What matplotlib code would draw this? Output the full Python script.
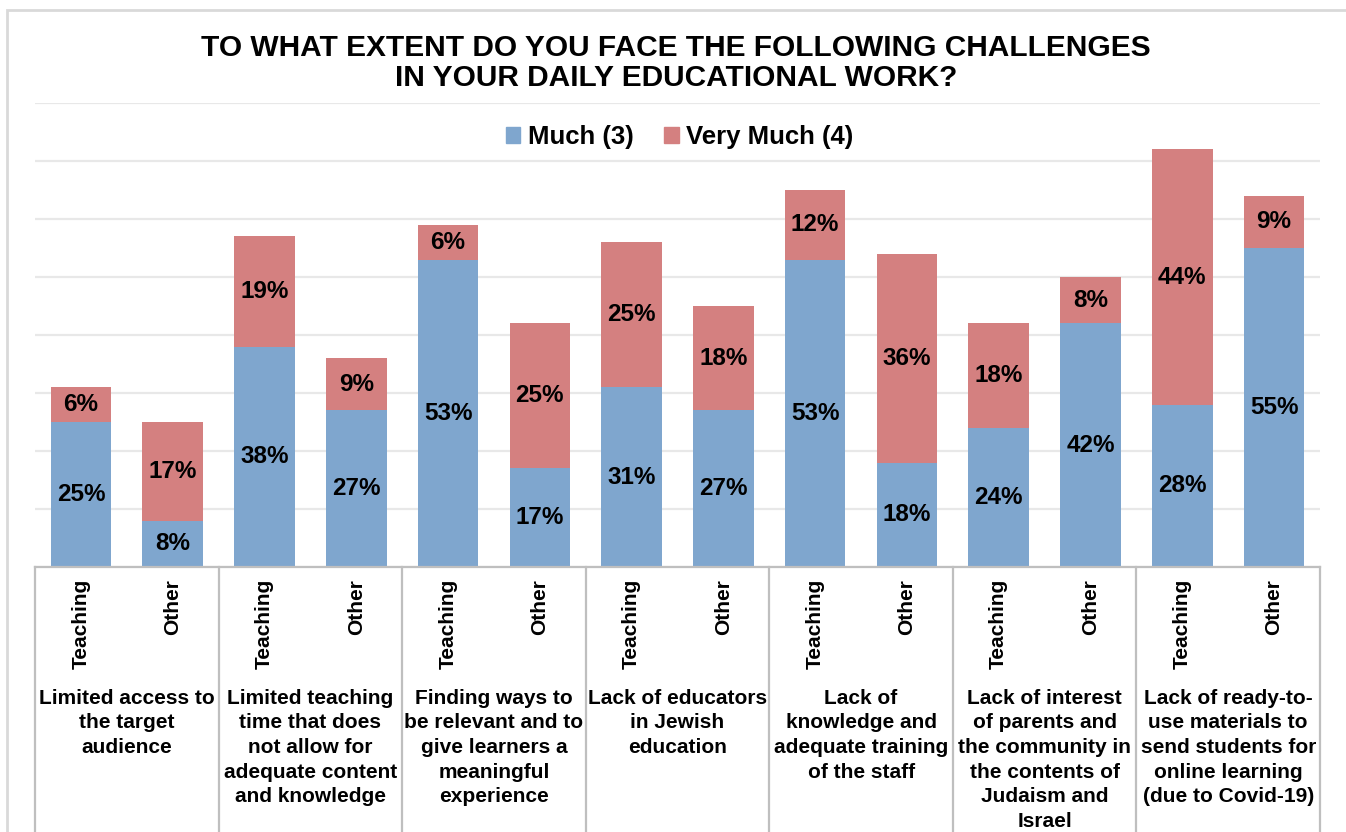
import matplotlib.pyplot as plt
import matplotlib.patches as mpatches
import numpy as np

plt.rcParams['font.family'] = ['Liberation Sans', 'DejaVu Sans']
plt.rcParams['font.weight'] = 'bold'

groups = [
    "Limited access to\nthe target\naudience",
    "Limited teaching\ntime that does\nnot allow for\nadequate content\nand knowledge",
    "Finding ways to\nbe relevant and to\ngive learners a\nmeaningful\nexperience",
    "Lack of educators\nin Jewish\neducation",
    "Lack of\nknowledge and\nadequate training\nof the staff",
    "Lack of interest\nof parents and\nthe community in\nthe contents of\nJudaism and\nIsrael",
    "Lack of ready-to-\nuse materials to\nsend students for\nonline learning\n(due to Covid-19)",
]
roles = ["Teaching", "Other"]
much = [25, 8, 38, 27, 53, 17, 31, 27, 53, 18, 24, 42, 28, 55]
very_much = [6, 17, 19, 9, 6, 25, 25, 18, 12, 36, 18, 8, 44, 9]

blue = "#7fa6ce"
red = "#d48080"
W, H = 1346, 832

fig = plt.figure(figsize=(W / 100, H / 100), dpi=100)
ax = fig.add_axes([35 / W, 1 - 567 / H, (1320 - 35) / W, (567 - 103) / H])

x = np.arange(len(much))
ax.bar(x, much, width=0.66, color=blue, zorder=2)
ax.bar(x, very_much, width=0.66, bottom=much, color=red, zorder=2)

for xi, m, v in zip(x, much, very_much):
    ax.text(xi, m / 2, f"{m}%", ha="center", va="center", fontsize=17.5, zorder=3)
    ax.text(xi, m + v / 2, f"{v}%", ha="center", va="center", fontsize=17.5, zorder=3)

ax.set_xlim(-0.5, len(much) - 0.5)
ax.set_ylim(0, 80)
ax.set_yticks(range(0, 81, 10))
ax.yaxis.grid(True, color="#e8e8e8", linewidth=1.6, zorder=0)
ax.set_axisbelow(True)
ax.tick_params(left=False, labelleft=False, bottom=False, labelbottom=False)
for s in ax.spines.values():
    s.set_visible(False)

# category axis: baseline, separators, labels
tr = ax.get_xaxis_transform()
ax.plot([-0.5, len(much) - 0.5], [0, 0], color="#bfbfbf", linewidth=1.6,
        transform=tr, clip_on=False, zorder=4)
for b in np.arange(-0.5, len(much), 2):
    ax.plot([b, b], [0, -0.7], color="#bfbfbf", linewidth=1.6,
            transform=tr, clip_on=False)

for xi in x:
    ax.text(xi, -0.026, roles[xi % 2], rotation=90, ha="center", va="top",
            fontsize=15, transform=tr)
for gi, g in enumerate(groups):
    ax.text(gi * 2 + 0.5, -0.262, g, ha="center", va="top", fontsize=15,
            linespacing=1.38, transform=tr)

fig.text(0.502, 1 - 48 / H, "TO WHAT EXTENT DO YOU FACE THE FOLLOWING CHALLENGES",
         ha="center", va="center", fontsize=21.5)
fig.text(0.502, 1 - 78 / H, "IN YOUR DAILY EDUCATIONAL WORK?",
         ha="center", va="center", fontsize=21.5)

handles = [mpatches.Patch(color=blue, label="Much (3)"),
           mpatches.Patch(color=red, label="Very Much (4)")]
fig.legend(handles=handles, loc="center", bbox_to_anchor=(0.505, 1 - 137 / H),
           ncol=2, frameon=False, fontsize=18.5, handlelength=0.55,
           handleheight=0.55, handletextpad=0.3, columnspacing=1.2)

fig.patches.append(mpatches.Rectangle((7 / W, -0.1), 1.2, 1 - 10 / H + 0.1,
                                      transform=fig.transFigure, fill=False,
                                      edgecolor="#d9d9d9", linewidth=2))

fig.savefig("out.png", dpi=100)
